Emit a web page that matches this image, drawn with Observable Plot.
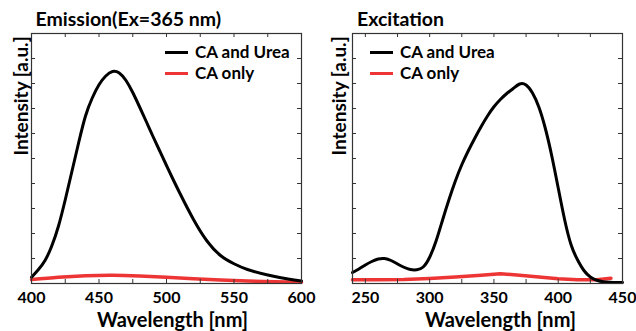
<!DOCTYPE html>
<html><head><meta charset="utf-8">
<script src="https://cdn.jsdelivr.net/npm/d3@7"></script>
<script src="https://cdn.jsdelivr.net/npm/@observablehq/plot@0.6"></script>
<style>
body{margin:0;background:#fff;font-family:Lato,sans-serif;}
#wrap{display:flex;width:636px;height:331px;}
.panel{position:relative;width:318px;height:331px;}
.leg{position:absolute;font-weight:bold;font-size:17px;color:#000;display:flex;align-items:center;white-space:nowrap;height:20px;line-height:20px;}
.leg .sw{display:inline-block;width:23px;height:3px;margin-right:7px;}
</style></head><body><div id="wrap"></div><script>
// ---- Emission (Ex = 365 nm) ----
const emWl = [400,405,410,415,420,425,430,435,440,445,450,455,460,465,470,475,480,485,490,495,500,505,510,520,530,540,550,560,575,590,600];
const emCAUrea = [0.25,0.55,0.92,1.5,2.3,3.35,4.5,5.65,6.7,7.42,7.95,8.3,8.48,8.42,8.12,7.64,7.07,6.48,5.88,5.3,4.72,4.15,3.6,2.56,1.7,1.12,0.79,0.56,0.34,0.18,0.1];
const emWlRed = [400,420,440,460,480,500,520,540,560,580,600];
const emCAOnly = [0.16,0.25,0.31,0.33,0.3,0.25,0.19,0.14,0.1,0.07,0.05];
const emTicksMajor = [400,450,500,550,600];
const emTicksMinor = [400,425,450,475,500,525,550,575,600];

// ---- Excitation ----
const exWl = [240,245,250,255,260,265,270,275,280,285,290,295,300,305,310,315,320,325,330,335,340,345,350,355,360,365,370,375,380,385,390,395,400,405,410,415,420,425,430,435,440,445,450];
const exCAUrea = [0.44,0.58,0.74,0.88,0.98,1.0,0.92,0.78,0.65,0.56,0.55,0.66,1.05,1.7,2.53,3.35,4.1,4.75,5.3,5.8,6.27,6.7,7.07,7.36,7.6,7.8,7.98,7.94,7.62,7.05,6.2,5.1,3.82,2.55,1.55,0.95,0.52,0.26,0.13,0.07,0.05,0.04,0.04];
const exWlRed = [240,260,280,300,320,340,355,370,385,400,415,430,441];
const exCAOnly = [0.15,0.15,0.16,0.2,0.26,0.33,0.39,0.33,0.26,0.19,0.15,0.15,0.21];
const exTicksMajor = [250,300,350,400,450];
const exTicksMinor = [250,275,300,325,350,375,400,425,450];

const yTicks = [0,1,2,3,4,5,6,7,8,9,10];
const seriesNames = ["CA and Urea","CA only"];
const colors = ["#000000","#ee3535"];

const W = 318, H = 331, MT = 33, MB = 48, TICK = 4;

function panel(cfg){
  const fw = W - cfg.ml - cfg.mr, fh = H - MT - MB;
  const black = cfg.wl.map((x,i)=>({x, y: cfg.v1[i]}));
  const red = cfg.wl2.map((x,i)=>({x, y: cfg.v2[i]}));
  const chart = Plot.plot({
    width: W, height: H,
    marginLeft: cfg.ml, marginRight: cfg.mr, marginTop: MT, marginBottom: MB,
    style: {fontFamily: "Lato, sans-serif", color: "#000", background: "#fff"},
    x: {domain: cfg.domain},
    y: {domain: [0,10], axis: null},
    marks: [
      Plot.line(red, {x:"x", y:"y", stroke: colors[1], strokeWidth: 3.5, curve: cfg.redCurve}),
      Plot.line(black, {x:"x", y:"y", stroke: colors[0], strokeWidth: 3, curve: "natural"}),
      Plot.frame({stroke: "#333", strokeWidth: 1.2}),
      Plot.tickX(cfg.minor, {x: d=>d, insetTop: fh - TICK, stroke: "#333"}),
      Plot.tickX(cfg.minor, {x: d=>d, insetBottom: fh - TICK, stroke: "#333"}),
      Plot.tickY(yTicks, {y: d=>d, insetRight: fw - TICK, stroke: "#333"}),
      Plot.tickY(yTicks, {y: d=>d, insetLeft: fw - TICK, stroke: "#333"}),
      Plot.axisX(cfg.major, {anchor: "bottom", tickSize: 0, tickPadding: 8, fontSize: 16, fontWeight: "bold", label: null}),
      Plot.text([cfg.title], {frameAnchor: "top-left", textAnchor: "start", lineAnchor: "bottom", dx: cfg.titleDx, dy: -8, fontSize: 19.5, fontWeight: "bold"}),
      Plot.text(["Wavelength [nm]"], {frameAnchor: "bottom", lineAnchor: "bottom", dy: 43, dx: cfg.xlDx, fontSize: 20, fontWeight: "bold"}),
      Plot.text(["Intensity [a.u.]"], {frameAnchor: "left", rotate: -90, dx: cfg.ylDx, dy: -3, fontSize: 19, fontWeight: "bold"})
    ]
  });
  const div = document.createElement("div");
  div.className = "panel";
  div.appendChild(chart);
  seriesNames.forEach((name,i)=>{
    const l = document.createElement("div");
    l.className = "leg";
    l.style.left = cfg.legX + "px";
    l.style.top = (42 + i*21) + "px";
    const sw = document.createElement("span");
    sw.className = "sw";
    sw.style.background = colors[i];
    l.appendChild(sw);
    l.appendChild(document.createTextNode(name));
    div.appendChild(l);
  });
  document.getElementById("wrap").appendChild(div);
}

panel({title: "Emission(Ex=365 nm)", domain: [400,600], wl: emWl, v1: emCAUrea, wl2: emWlRed, v2: emCAOnly,
  major: emTicksMajor, minor: emTicksMinor, ml: 31, mr: 17, titleDx: 4, xlDx: 6, ylDx: -10, legX: 165, redCurve: "natural"});
panel({title: "Excitation", domain: [240,450], wl: exWl, v1: exCAUrea, wl2: exWlRed, v2: exCAOnly,
  major: exTicksMajor, minor: exTicksMinor, ml: 34, mr: 14, titleDx: 4.5, xlDx: 13, ylDx: -13, legX: 52, redCurve: "linear"});
</script></body></html>
